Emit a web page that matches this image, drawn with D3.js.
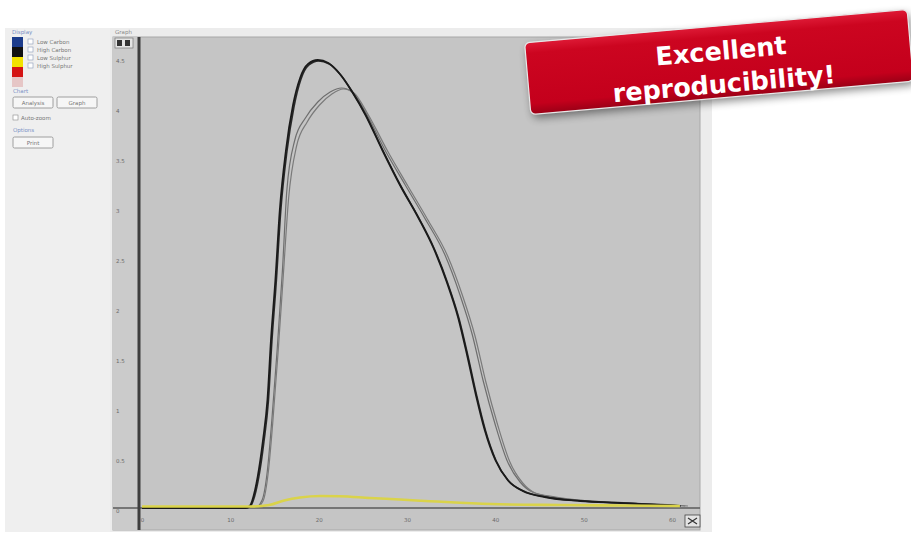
<!DOCTYPE html>
<html>
<head>
<meta charset="utf-8">
<script src="https://cdn.jsdelivr.net/npm/d3@7"></script>
<style>
  body { margin: 0; background: #fff; }
  svg { display: block; font-family: "DejaVu Sans", Verdana, sans-serif; }
</style>
</head>
<body>
<script>
// Chart dimensions
const width = 911;
const height = 534;

// Tick labels
const xTicks = [0, 10, 20, 30, 40, 50, 60];
const yTicks = [0, 0.5, 1, 1.5, 2, 2.5, 3, 3.5, 4, 4.5];

// Legend entries of the side panel
const legendNames = ["Low Carbon", "High Carbon", "Low Sulphur", "High Sulphur"];
const legendColors = ["#1c3c8c", "#111111", "#f2e200", "#d41414", "#e6c6c6"];

// Run 1 (dark)
const timeRun1 = [0, 11.7, 12.2, 12.8, 13.4, 13.7, 14.2, 14.6, 15.1, 15.6, 16.3, 17.1, 17.9, 18.8, 19.9, 21.1, 22.4, 23.8, 25.3, 27.2, 29.2, 31.3, 33.0, 34.5, 35.8, 36.8, 37.8, 38.8, 40.0, 41.4, 43.1, 45.6, 49.6, 54.1, 58.7, 60.9];
const valueRun1 = [0, 0, 0.02, 0.18, 0.48, 0.68, 1.08, 1.68, 2.28, 2.98, 3.58, 4.03, 4.3, 4.44, 4.48, 4.45, 4.34, 4.16, 3.93, 3.58, 3.23, 2.9, 2.6, 2.26, 1.9, 1.53, 1.13, 0.78, 0.48, 0.28, 0.17, 0.11, 0.07, 0.05, 0.03, 0.02];

// Run 2 (dark)
const timeRun2 = [0, 11.8, 12.3, 12.9, 13.5, 13.8, 14.3, 14.7, 15.2, 15.7, 16.4, 17.2, 18.0, 18.9, 20.0, 21.2, 22.5, 23.9, 25.4, 27.3, 29.3, 31.4, 33.1, 34.6, 35.9, 36.9, 37.9, 38.9, 40.1, 41.5, 43.2, 45.7, 49.7, 54.2, 58.8, 61.0];
const valueRun2 = [0, 0, 0.02, 0.17, 0.46, 0.66, 1.06, 1.66, 2.26, 2.96, 3.56, 4.01, 4.29, 4.43, 4.47, 4.44, 4.33, 4.15, 3.92, 3.57, 3.22, 2.89, 2.59, 2.25, 1.89, 1.52, 1.12, 0.77, 0.47, 0.27, 0.17, 0.11, 0.07, 0.05, 0.03, 0.02];

// Run 3 (grey)
const timeRun3 = [0, 12.8, 13.6, 14.2, 14.7, 15.3, 15.9, 16.4, 17.3, 18.5, 19.9, 21.3, 22.6, 23.8, 25.3, 27.5, 29.8, 32.0, 34.3, 36.0, 37.4, 38.6, 40.0, 41.3, 42.8, 44.2, 46.8, 50.7, 55.3, 59.8, 61.5];
const valueRun3 = [0, 0, 0.08, 0.38, 0.88, 1.58, 2.38, 3.18, 3.68, 3.9, 4.06, 4.16, 4.2, 4.16, 3.96, 3.58, 3.23, 2.9, 2.53, 2.13, 1.73, 1.28, 0.83, 0.48, 0.26, 0.16, 0.11, 0.07, 0.05, 0.03, 0.02];

// Run 4 (grey)
const timeRun4 = [0, 12.9, 13.7, 14.3, 14.8, 15.4, 16.0, 16.6, 17.5, 18.7, 20.1, 21.5, 22.8, 24.0, 25.5, 27.8, 30.1, 32.3, 34.6, 36.3, 37.7, 38.9, 40.3, 41.6, 43.1, 44.5, 47.1, 51.0, 55.6, 60.1, 61.8];
const valueRun4 = [0, 0, 0.07, 0.36, 0.85, 1.55, 2.33, 3.1, 3.62, 3.86, 4.03, 4.14, 4.19, 4.15, 3.95, 3.57, 3.22, 2.89, 2.52, 2.12, 1.72, 1.27, 0.82, 0.47, 0.25, 0.15, 0.1, 0.07, 0.05, 0.03, 0.02];

// Sulphur trace (yellow)
const timeSulphur = [0, 12.2, 14.4, 16.1, 17.9, 20.2, 22.4, 25.8, 29.2, 32.6, 36.0, 40.5, 47.3, 54.1, 60.9];
const valueSulphur = [0.015, 0.015, 0.03, 0.075, 0.105, 0.12, 0.118, 0.1, 0.085, 0.068, 0.052, 0.037, 0.03, 0.025, 0.02];

// Build series table from the arrays
const series = [
  { t: timeRun3, v: valueRun3, color: "#6e6e6e", w: 1.2 },
  { t: timeRun4, v: valueRun4, color: "#7a7a7a", w: 1.2 },
  { t: timeRun2, v: valueRun2, color: "#2a2a2a", w: 1.6 },
  { t: timeRun1, v: valueRun1, color: "#1a1a1a", w: 1.8 },
  { t: timeSulphur, v: valueSulphur, color: "#dad34a", w: 2.6 },
];

const svg = d3.select("body").append("svg")
  .attr("width", width)
  .attr("height", height);

const defs = svg.append("defs");

// ---------- side panel ----------
svg.append("rect").attr("x", 5).attr("y", 28).attr("width", 105).attr("height", 504).attr("fill", "#efefef");
svg.append("rect").attr("x", 110).attr("y", 28).attr("width", 602).attr("height", 504).attr("fill", "#ececec");

const side = svg.append("g").attr("font-size", 5.5).attr("fill", "#777");
side.append("text").attr("x", 12).attr("y", 34).attr("fill", "#7a92c6").text("Display");
side.selectAll("rect.sw")
  .data(legendColors)
  .join("rect")
  .attr("class", "sw")
  .attr("x", 12).attr("y", (d, i) => 37 + i * 10)
  .attr("width", 11).attr("height", 10)
  .attr("fill", (d) => d);
side.selectAll("rect.cb")
  .data(legendNames)
  .join("rect")
  .attr("class", "cb")
  .attr("x", 28).attr("y", (d, i) => 39 + i * 8)
  .attr("width", 5).attr("height", 5)
  .attr("fill", "#fff").attr("stroke", "#8a9ab8").attr("stroke-width", 0.6);
side.selectAll("text.lg")
  .data(legendNames)
  .join("text")
  .attr("class", "lg")
  .attr("x", 37).attr("y", (d, i) => 44 + i * 8)
  .text((d) => d);

side.append("text").attr("x", 13).attr("y", 93).attr("fill", "#7a92c6").text("Chart");
const buttons = [["Analysis", 13, 97], ["Graph", 57, 97], ["Print", 13, 137]];
buttons.forEach(([label, bx, by]) => {
  side.append("rect").attr("x", bx).attr("y", by).attr("width", 40).attr("height", 11).attr("rx", 1.5)
    .attr("fill", "#f6f6f6").attr("stroke", "#8c8c8c").attr("stroke-width", 0.8);
  side.append("text").attr("x", bx + 20).attr("y", by + 7.5).attr("text-anchor", "middle").text(label);
});
side.append("rect").attr("x", 13).attr("y", 115).attr("width", 5).attr("height", 5)
  .attr("fill", "#fff").attr("stroke", "#888").attr("stroke-width", 0.6);
side.append("text").attr("x", 21).attr("y", 120).text("Auto-zoom");
side.append("text").attr("x", 13).attr("y", 132).attr("fill", "#7a92c6").text("Options");

// ---------- plot frame ----------
const plotLeft = 113, plotRight = 700, plotTop = 37, plotBottom = 530;
svg.append("text").attr("x", 115).attr("y", 34).attr("font-size", 5.5).attr("fill", "#8a8a8a").text("Graph");
svg.append("rect").attr("x", plotLeft).attr("y", plotTop).attr("width", plotRight - plotLeft).attr("height", plotBottom - plotTop)
  .attr("fill", "#c5c5c5").attr("stroke", "#a8a8a8");
svg.append("rect").attr("x", plotLeft).attr("y", plotTop).attr("width", 25).attr("height", plotBottom - plotTop)
  .attr("fill", "#cbcbcb");

// Scales
const x = d3.scaleLinear().domain([0, 60]).range([142, 672]);
const y = d3.scaleLinear().domain([0, 4.5]).range([508, 58]);

// Zero line
svg.append("line").attr("x1", plotLeft).attr("x2", plotRight).attr("y1", y(0)).attr("y2", y(0))
  .attr("stroke", "#5a5a5a").attr("stroke-width", 1.4);

// Curves
const line = d3.line()
  .x((d) => x(d[0]))
  .y((d) => y(d[1]))
  .curve(d3.curveMonotoneX);

svg.append("g")
  .selectAll("path")
  .data(series)
  .join("path")
  .attr("d", (s) => line(d3.zip(s.t, s.v)))
  .attr("fill", "none")
  .attr("stroke", (s) => s.color)
  .attr("stroke-width", (s) => s.w)
  .attr("stroke-linejoin", "round");

// Y axis
const yAxis = svg.append("g")
  .attr("transform", "translate(139,0)")
  .call(d3.axisLeft(y).tickValues(yTicks).tickSize(0).tickFormat(d3.format("")));
yAxis.select(".domain").remove();
yAxis.selectAll("text")
  .attr("x", -23).attr("dy", "0.75em")
  .attr("text-anchor", "start")
  .attr("font-size", 5.5).attr("fill", "#6a6a6a")
  .attr("font-family", "DejaVu Sans");

svg.append("line").attr("x1", 139).attr("x2", 139).attr("y1", plotTop).attr("y2", plotBottom)
  .attr("stroke", "#3e3e3e").attr("stroke-width", 3);

// X axis
const xAxis = svg.append("g")
  .attr("transform", `translate(0,${y(0)})`)
  .call(d3.axisBottom(x).tickValues(xTicks).tickSize(0));
xAxis.select(".domain").remove();
xAxis.selectAll("text")
  .attr("y", 10)
  .attr("font-size", 5.5).attr("fill", "#6a6a6a")
  .attr("font-family", "DejaVu Sans");

// Small zoom icons
svg.append("rect").attr("x", 115).attr("y", 38).attr("width", 18).attr("height", 10).attr("fill", "#e4e4e4").attr("stroke", "#777").attr("stroke-width", 0.7);
svg.append("rect").attr("x", 117).attr("y", 40).attr("width", 5).attr("height", 6).attr("fill", "#333");
svg.append("rect").attr("x", 125).attr("y", 40).attr("width", 5).attr("height", 6).attr("fill", "#333");
svg.append("rect").attr("x", 685).attr("y", 515).attr("width", 15).attr("height", 12).attr("fill", "#e4e4e4").attr("stroke", "#444").attr("stroke-width", 0.8);
svg.append("path").attr("d", "M688,518 L697,524 M697,518 L688,524").attr("stroke", "#333").attr("stroke-width", 1.2);

// ---------- banner ----------
const grad = defs.append("linearGradient").attr("id", "bannerGrad").attr("x1", 0).attr("y1", 0).attr("x2", 0).attr("y2", 1);
grad.append("stop").attr("offset", "0%").attr("stop-color", "#de1a36");
grad.append("stop").attr("offset", "15%").attr("stop-color", "#cc0520");
grad.append("stop").attr("offset", "85%").attr("stop-color", "#c4001c");
grad.append("stop").attr("offset", "100%").attr("stop-color", "#9a0016");
const blur = defs.append("filter").attr("id", "shadow").attr("x", "-10%").attr("y", "-30%").attr("width", "120%").attr("height", "170%");
blur.append("feGaussianBlur").attr("stdDeviation", 4);

const banner = svg.append("g").attr("transform", "translate(719,62) rotate(-5)");
banner.append("rect").attr("x", -190).attr("y", -32).attr("width", 384).attr("height", 72).attr("rx", 5)
  .attr("fill", "#000").attr("opacity", 0.45).attr("filter", "url(#shadow)");
banner.append("rect").attr("x", -192).attr("y", -36).attr("width", 384).attr("height", 72).attr("rx", 5)
  .attr("fill", "url(#bannerGrad)").attr("stroke", "#e8e8e8").attr("stroke-width", 1.2);
banner.selectAll("text")
  .data(["Excellent", "reproducibility!"])
  .join("text")
  .attr("x", 3)
  .attr("y", (d, i) => (i === 0 ? -11 : 22))
  .attr("dominant-baseline", "central")
  .attr("text-anchor", "middle")
  .attr("font-size", 25.5)
  .attr("font-weight", "bold")
  .attr("fill", "#fff")
  .text((d) => d);
</script>
</body>
</html>
